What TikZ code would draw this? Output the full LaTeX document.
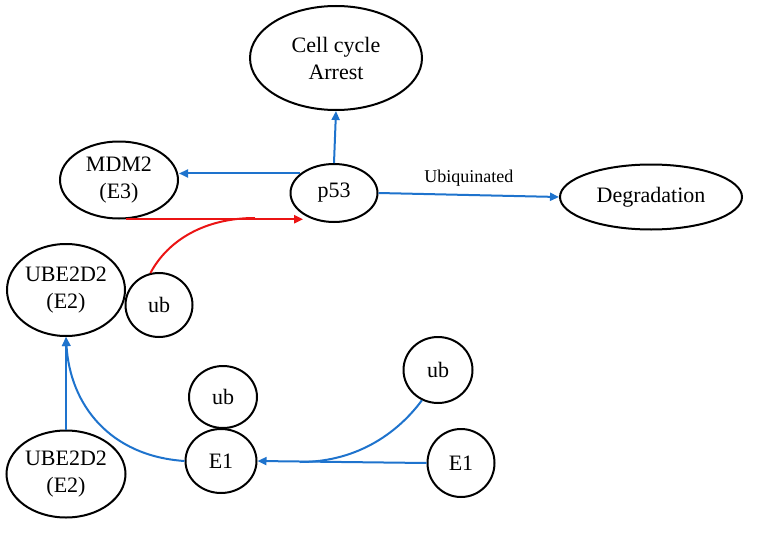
\documentclass[tikz,border=0pt]{standalone}
\usepackage{fontspec}
\setmainfont{Liberation Serif}
\usetikzlibrary{shapes.geometric,arrows.meta}
\definecolor{bl}{RGB}{30,115,205}
\definecolor{rd}{RGB}{235,20,20}
\tikzset{
  ell/.style={draw=black,line width=2pt,ellipse,inner sep=0pt,align=center,font=\fontsize{22}{27}\selectfont},
  blc/.style={draw=bl,line width=2pt},
  rdc/.style={draw=rd,line width=2pt},
  tip/.style={-{Triangle[length=9pt,width=8pt]}}
}
\begin{document}
\begin{tikzpicture}[x=1pt,y=-1pt]
\useasboundingbox (0,0) rectangle (759,532);
\node[ell,minimum width=172,minimum height=104] (cc) at (336,58) {Cell cycle\\Arrest};
\node[ell,minimum width=87,minimum height=58] (p53) at (334,193) {p53};
\node[ell,minimum width=182,minimum height=65] (deg) at (651,197) {Degradation};
\node[ell,minimum width=118,minimum height=77] (mdm) at (119,180) {MDM2\\(E3)};
\node[ell,minimum width=118,minimum height=92] (ube1) at (66,290) {UBE2D2\\(E2)};
\node[ell,minimum width=67,minimum height=64] (ub1) at (159,305) {ub};
\node[ell,minimum width=119,minimum height=87] (ube2) at (66,474) {UBE2D2\\(E2)};
\node[ell,minimum width=68,minimum height=62] (ub2) at (223,397) {ub};
\node[ell,minimum width=71,minimum height=64] (e1a) at (221,461) {E1};
\node[ell,minimum width=69,minimum height=66] (ub3) at (438,370) {ub};
\node[ell,minimum width=67,minimum height=68] (e1b) at (461,463) {E1};
\coordinate (rj) at (255,218);
\coordinate (bj) at (300,462);
% blue connectors
\draw[blc,tip] (p53.north) -- (cc.south);
\draw[blc,tip] (p53.150) -- (p53.150 -| mdm.east);
\draw[blc,tip] (p53.east) -- node[above=4pt,font=\fontsize{18}{21}\selectfont,text=black]{Ubiquinated} (deg.west);
\draw[blc,tip] (ube2.north) -- (ube1.south);
\draw[blc,tip] (e1a.west) .. controls (110,456) and (70,405) .. (ube1.south);
\draw[blc,tip] (e1b.west) -- (e1a.east);
\draw[blc] (ub3.-118) .. controls (400,430) and (360,462) .. (bj);
% red connectors
\draw[rdc,tip] (mdm.-80) -- (mdm.-80 -| p53.215);
\draw[rdc] (ub1.105) .. controls (168,240) and (205,218) .. (rj);
\end{tikzpicture}
\end{document}
